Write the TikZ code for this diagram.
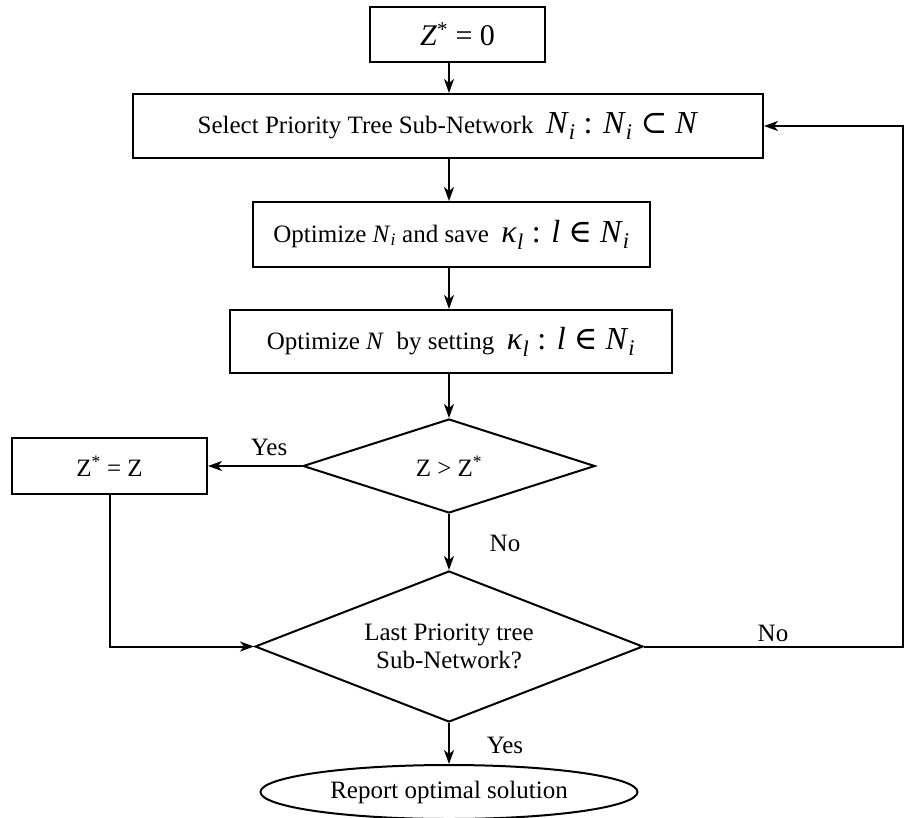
\documentclass[tikz,border=0pt]{standalone}
\usepackage{fontspec}
\setmainfont{Liberation Serif}
\newfontfamily\symf{DejaVu Serif}
\usetikzlibrary{shapes.geometric,arrows.meta}
\newcommand\vi[1]{\textit{#1}}
\newcommand\sbi[1]{\textsubscript{\textit{#1}}}
\newcommand\bigtxt[1]{{\fontsize{32}{35}\selectfont#1}}
\tikzset{
  every node/.style={font=\fontsize{25}{28}\selectfont},
  procbox/.style={draw, line width=2pt, rectangle, inner sep=0pt},
  decbox/.style={draw, line width=2pt, diamond, inner sep=0pt},
  termbox/.style={draw, line width=2pt, ellipse, inner sep=0pt},
  arr/.style={line width=2pt, -{Stealth[length=14pt,width=10pt,inset=4pt]}},
  lbl/.style={inner sep=0pt}
}
\begin{document}
\begin{tikzpicture}[x=1pt,y=-1pt]
\useasboundingbox (0,0) rectangle (905,817);
\coordinate (ax) at (449,0);
\coordinate (rt) at (903,0);

\node[procbox, minimum width=175pt, minimum height=55pt] (b1) at (457.5,34.5)
  {\fontsize{30}{33}\selectfont\vi{Z}\textsuperscript{*} = 0};
\node[procbox, minimum width=630pt, minimum height=64pt] (b2) at (448,126)
  {Select Priority Tree Sub-Network\enspace\bigtxt{\vi{N}\sbi{i} : \vi{N}\sbi{i} {\symf ⊂} \vi{N}}};
\node[procbox, minimum width=397pt, minimum height=65pt] (b3) at (451.5,234.5)
  {Optimize \vi{N}\sbi{i} and save\enspace\bigtxt{\vi{κ}\sbi{l} : \vi{l} {\symf ∈} \vi{N}\sbi{i}}};
\node[procbox, minimum width=442pt, minimum height=63pt] (b4) at (451,341.5)
  {Optimize \vi{N}\enspace by setting\enspace\bigtxt{\vi{κ}\sbi{l} : \vi{l} {\symf ∈} \vi{N}\sbi{i}}};
\node[decbox, minimum width=292pt, minimum height=94pt] (d1) at (449,466) {};
\node[lbl] (d1t) at (d1.center) {Z > Z\textsuperscript{*}};
\node[procbox, minimum width=195pt, minimum height=56pt] (b5) at (109.5,466)
  {Z\textsuperscript{*} = Z};
\node[decbox, minimum width=388pt, minimum height=151pt] (d2) at (449,646.5) {};
\node[lbl, align=center] (d2t) at (d2.center) {Last Priority tree\\Sub-Network?};
\node[termbox, minimum width=377pt, minimum height=54pt] (e1) at (449,792)
  {Report optimal solution};

\draw[arr] (b1.south -| ax) -- (b2.north -| ax);
\draw[arr] (b2.south -| ax) -- (b3.north -| ax);
\draw[arr] (b3.south -| ax) -- (b4.north -| ax);
\draw[arr] (b4.south -| ax) -- (d1.north);
\draw[arr] (d1.west) -- (b5.east) node[lbl, pos=0.35, above=9pt] (yes1) {Yes};
\draw[arr] (d1.south) -- (d2.north);
\node[lbl] (no1) at (505,543) {No};
\draw[arr] (b5.south) |- (d2.west);
\draw[arr] (d2.south) -- (e1.north);
\node[lbl] (yes2) at (505,745) {Yes};
\draw[arr] (d2.east) -- (d2.east -| rt) |- (b2.east);
\node[lbl] (no2) at (773,633) {No};
\end{tikzpicture}
\end{document}
